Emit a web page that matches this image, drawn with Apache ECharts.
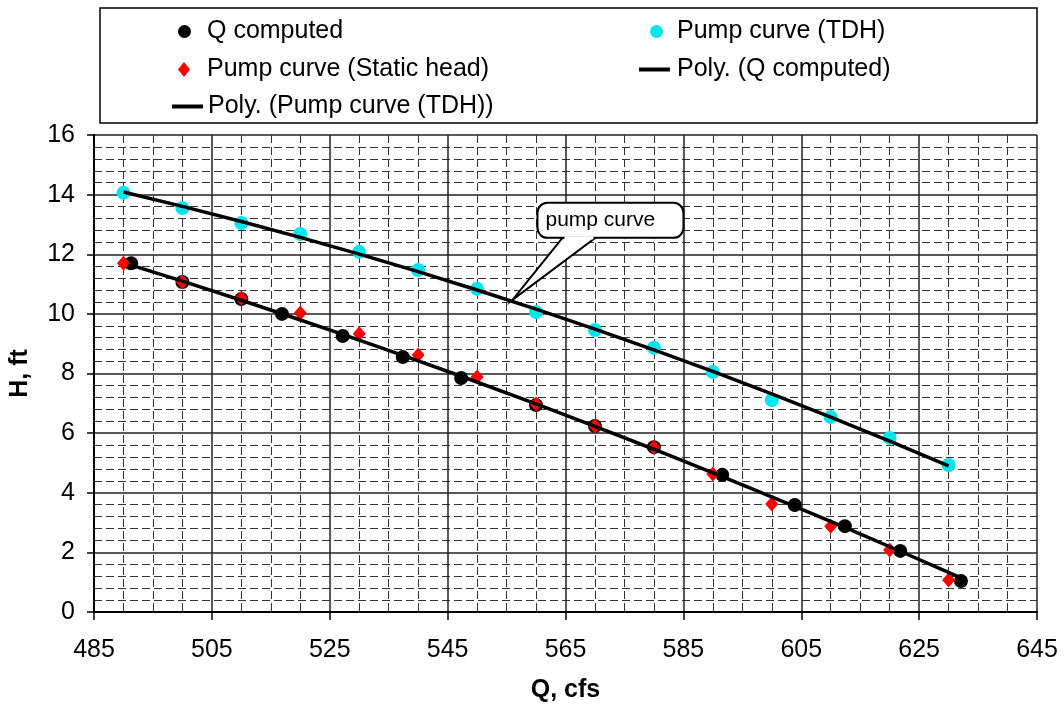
<!DOCTYPE html>
<html>
<head>
<meta charset="utf-8">
<script src="https://cdn.jsdelivr.net/npm/echarts@6/dist/echarts.min.js"></script>
<style>
  html, body { margin: 0; padding: 0; background: #fff; }
  #chart { width: 1064px; height: 709px; }
</style>
</head>
<body>
<div id="chart"></div>
<script>
// data
const qComputedX = [491.3, 500, 510, 516.9, 527.2, 537.4, 547.3, 560, 570, 580, 591.6, 603.9, 612.4, 621.8, 632.1];
const qComputedH = [11.7, 11.07, 10.5, 10.0, 9.26, 8.55, 7.85, 6.94, 6.24, 5.53, 4.6, 3.59, 2.88, 2.05, 1.04];
const pumpQ = [490, 500, 510, 520, 530, 540, 550, 560, 570, 580, 590, 600, 610, 620, 630];
const tdhH = [14.06, 13.55, 13.05, 12.68, 12.08, 11.47, 10.84, 10.06, 9.46, 8.86, 8.05, 7.11, 6.54, 5.84, 4.93];
const staticH = [11.7, 11.07, 10.53, 10.03, 9.33, 8.62, 7.88, 6.98, 6.24, 5.53, 4.63, 3.62, 2.88, 2.08, 1.07];
const xTicks = { min: 485, max: 645, step: 20 };
const yTicks = { min: 0, max: 16, step: 2 };
const calloutText = 'pump curve';
const calloutAnchor = [556, 10.47]; // point on the TDH trendline

const FONT = "'Liberation Sans', Arial, sans-serif";

// 2nd order polynomial trendline (least squares), like Excel "Poly."
function polyFit(xs, ys) {
  const n = xs.length;
  const m = xs.reduce((a, b) => a + b, 0) / n;
  let s = [0, 0, 0, 0, 0], t = [0, 0, 0];
  for (let i = 0; i < n; i++) {
    const u = xs[i] - m;
    for (let k = 0; k < 5; k++) s[k] += Math.pow(u, k);
    for (let k = 0; k < 3; k++) t[k] += ys[i] * Math.pow(u, k);
  }
  const A = [[s[0], s[1], s[2]], [s[1], s[2], s[3]], [s[2], s[3], s[4]]];
  const det = M => M[0][0] * (M[1][1] * M[2][2] - M[1][2] * M[2][1])
    - M[0][1] * (M[1][0] * M[2][2] - M[1][2] * M[2][0])
    + M[0][2] * (M[1][0] * M[2][1] - M[1][1] * M[2][0]);
  const D = det(A);
  const c = [0, 1, 2].map(j => det(A.map((row, r) => row.map((v, k) => (k === j ? t[r] : v)))) / D);
  return xs.map(x => { const u = x - m; return [x, c[0] + c[1] * u + c[2] * u * u]; });
}

const pair = (xs, ys) => xs.map((x, i) => [x, ys[i]]);

const chart = echarts.init(document.getElementById('chart'));

// one legend per entry so the two columns line up like the original
function oneLegend(name, icon, left, top, w, h, gap) {
  return {
    show: true, type: 'plain', orient: 'horizontal',
    data: [{ name: name, icon: icon }], left: left, top: top, padding: 0,
    itemWidth: w, itemHeight: h, selectedMode: false,
    textStyle: { fontFamily: FONT, fontSize: 25, color: '#000', padding: [0, 0, 0, gap] }
  };
}

const option = {
  backgroundColor: '#fff',
  animation: false,
  grid: { left: 94, right: 27, top: 135, bottom: 97 },
  legend: [
    oneLegend('Q computed', 'circle', 178, 19, 13, 13, 11),
    oneLegend('Pump curve (TDH)', 'circle', 650, 19, 13, 13, 9),
    oneLegend('Pump curve (Static head)', 'diamond', 178, 57, 12, 15, 12),
    oneLegend('Poly. (Q computed)', 'rect', 639, 57, 31, 4, 2),
    oneLegend('Poly. (Pump curve (TDH))', 'rect', 172, 94, 31, 4, 0)
  ],
  graphic: [{
    type: 'rect', id: 'legendBox', z: 0,
    shape: { x: 100, y: 8, width: 937, height: 115 },
    style: { fill: 'none', stroke: '#000', lineWidth: 1.5 }
  }],
  xAxis: {
    type: 'value', min: xTicks.min, max: xTicks.max, interval: xTicks.step,
    name: 'Q, cfs', nameLocation: 'middle', nameGap: 66,
    nameTextStyle: { fontFamily: FONT, fontSize: 25, fontWeight: 'bold', color: '#000' },
    axisLine: { show: true, lineStyle: { color: '#000', width: 2 } },
    axisTick: { show: true, length: 8, lineStyle: { color: '#000', width: 1.5 } },
    axisLabel: { fontFamily: FONT, fontSize: 25, color: '#000', margin: 26 },
    splitLine: { show: true, lineStyle: { color: '#222', width: 1.5 } },
    minorTick: { show: false, splitNumber: 4 },
    minorSplitLine: { show: true, lineStyle: { color: '#333', width: 1, type: [8, 4] } }
  },
  yAxis: {
    type: 'value', min: yTicks.min, max: yTicks.max, interval: yTicks.step,
    name: 'H, ft', nameLocation: 'middle', nameGap: 61,
    nameTextStyle: { fontFamily: FONT, fontSize: 25, fontWeight: 'bold', color: '#000' },
    axisLine: { show: true, lineStyle: { color: '#000', width: 2 } },
    axisTick: { show: true, length: 7, lineStyle: { color: '#000', width: 1.5 } },
    axisLabel: { fontFamily: FONT, fontSize: 25, color: '#000', margin: 19 },
    splitLine: { show: true, lineStyle: { color: '#222', width: 1.5 } },
    minorTick: { show: false, splitNumber: 5 },
    minorSplitLine: { show: true, lineStyle: { color: '#333', width: 1, type: [8, 4] } }
  },
  series: [
    {
      name: 'Q computed', type: 'scatter', symbol: 'circle', symbolSize: 14,
      itemStyle: { color: '#000', opacity: 1 }, data: pair(qComputedX, qComputedH), z: 2
    },
    {
      name: 'Pump curve (TDH)', type: 'scatter', symbol: 'circle', symbolSize: 14,
      itemStyle: { color: '#00e5f0', opacity: 1 }, data: pair(pumpQ, tdhH), z: 3
    },
    {
      name: 'Pump curve (Static head)', type: 'scatter', symbol: 'diamond', symbolSize: [13, 15],
      itemStyle: { color: '#ff0000', opacity: 1 }, data: pair(pumpQ, staticH), z: 3
    },
    {
      name: 'Poly. (Q computed)', type: 'line', symbol: 'none', z: 5,
      lineStyle: { color: '#000', width: 3.5 }, itemStyle: { color: '#000' },
      data: polyFit(qComputedX, qComputedH)
    },
    {
      name: 'Poly. (Pump curve (TDH))', type: 'line', symbol: 'none', z: 5,
      lineStyle: { color: '#000', width: 3.5 }, itemStyle: { color: '#000' },
      data: polyFit(pumpQ, tdhH)
    }
  ]
};
chart.setOption(option);

// callout pointing at the TDH trendline
const tip = chart.convertToPixel({ gridIndex: 0 }, calloutAnchor);
const bx = tip[0] + 25, by = tip[1] - 97;
chart.setOption({
  graphic: [
    {
      type: 'polygon', id: 'calloutTail', z: 20,
      shape: { points: [[tip[0] + 50, by + 35], tip, [tip[0] + 83, by + 35]] },
      style: { fill: '#fff', stroke: '#000', lineWidth: 2 }
    },
    {
      type: 'rect', id: 'calloutBox', z: 21,
      shape: { x: bx, y: by, width: 146, height: 35, r: 10 },
      style: { fill: '#fff', stroke: '#000', lineWidth: 2 }
    },
    {
      type: 'line', id: 'calloutJoin', z: 22,
      shape: { x1: tip[0] + 52, y1: by + 35, x2: tip[0] + 81, y2: by + 35 },
      style: { stroke: '#fff', lineWidth: 3 }
    },
    {
      type: 'text', id: 'calloutText', z: 23, x: bx + 8, y: by + 17,
      style: { text: calloutText, fontFamily: FONT, fontSize: 21, fill: '#000', verticalAlign: 'middle' }
    }
  ]
});
</script>
</body>
</html>
